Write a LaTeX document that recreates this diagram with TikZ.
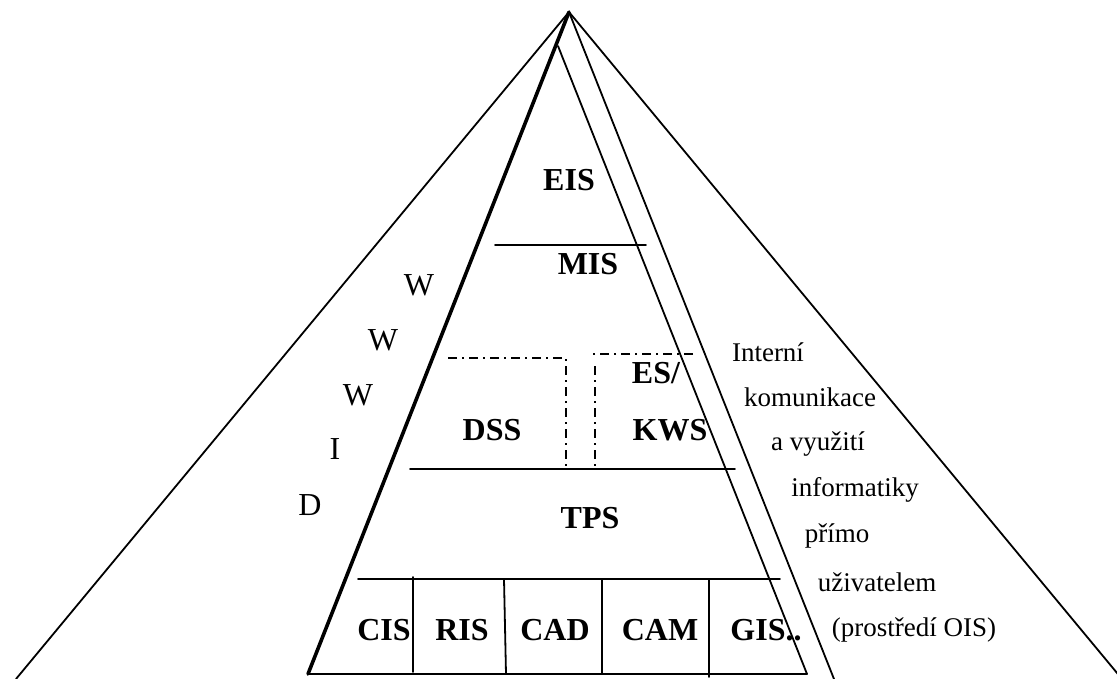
\documentclass[tikz,border=0pt]{standalone}
\usepackage{fontspec}
\setmainfont{Liberation Serif}
\begin{document}
\begin{tikzpicture}[x=1pt,y=-1pt,
  edge/.style={line width=1.8pt, line cap=round},
  heavy/.style={line width=3.6pt, line cap=round},
  dashdot/.style={line width=1.6pt, dash pattern=on 9pt off 5pt on 2pt off 5pt},
  sys/.style={inner sep=0pt, font=\fontsize{32}{34}\selectfont\bfseries},
  letter/.style={inner sep=0pt, font=\fontsize{32}{34}\selectfont},
  note/.style={inner sep=0pt, font=\fontsize{27}{29}\selectfont}]
\useasboundingbox (0,0) rectangle (1117,679);

% apex and base points of the pyramids
\coordinate (apex) at (569,12);
\coordinate (outerL) at (16,679);
\coordinate (outerR) at (1122,679);
\coordinate (innerTop) at (558,46);
\coordinate (baseL) at (308,674);
\coordinate (baseR) at (807,674);
\coordinate (edgeB) at (834,679);

% outer pyramid (Internet / WWW environment)
\draw[edge] (apex) -- (outerL);
\draw[edge] (apex) -- (outerR);
% inner pyramid of the information systems
\draw[heavy] (apex) -- (baseL);
\draw[edge] (innerTop) -- (baseR);
\draw[edge] (baseL) -- (baseR);
% strip of the office environment
\draw[edge] (apex) -- (edgeB);

% level separators
\coordinate (l1a) at (495,245);  \coordinate (l1b) at (646,245);
\coordinate (l2a) at (410,469);  \coordinate (l2b) at (735,469);
\coordinate (l3a) at (358,579);  \coordinate (l3b) at (780,579);
\draw[edge] (l1a) -- (l1b);
\draw[edge] (l2a) -- (l2b);
\draw[edge] (l3a) -- (l3b);

% cells of the operational level
\coordinate (d1a) at (413,577); \coordinate (d1b) at (413,672);
\coordinate (d2a) at (504,579); \coordinate (d2b) at (506,674);
\coordinate (d3a) at (602,579); \coordinate (d3b) at (602,674);
\coordinate (d4a) at (709,579); \coordinate (d4b) at (709,677);
\draw[edge] (d1a) -- (d1b);
\draw[edge] (d2a) -- (d2b);
\draw[edge] (d3a) -- (d3b);
\draw[edge] (d4a) -- (d4b);

% dash-dotted areas of DSS and ES/KWS
\coordinate (dssA) at (448,358); \coordinate (dssB) at (566,358); \coordinate (dssC) at (566,469);
\coordinate (esA) at (693,354);  \coordinate (esB) at (590,354);
\coordinate (esC) at (595,366);  \coordinate (esD) at (595,469);
\draw[dashdot] (dssA) -- (dssB) -- (dssC);
\draw[dashdot] (esA) -- (esB);
\draw[dashdot] (esC) -- (esD);

% system labels
\node[sys] (eis) at (569,180) {EIS};
\node[sys] (mis) at (588,264) {MIS};
\node[sys] (dss) at (492,430) {DSS};
\node[sys] (es)  at (656,373) {ES/};
\node[sys] (kws) at (670,430) {KWS};
\node[sys] (tps) at (590,518) {TPS};
\node[sys] (cis) at (384,630) {CIS};
\node[sys] (ris) at (462,630) {RIS};
\node[sys] (cad) at (555,630) {CAD};
\node[sys] (cam) at (660,630) {CAM};
\node[sys] (gis) at (766,630) {GIS..};

% WWW / ID letters
\node[letter] (w1) at (419,285) {W};
\node[letter] (w2) at (383,340) {W};
\node[letter] (w3) at (358,395) {W};
\node[letter] (li) at (335,449) {I};
\node[letter] (ld) at (310,505) {D};

% description of the office environment
\node[note] (t1) at (768,352) {Interní};
\node[note] (t2) at (810,397) {komunikace};
\node[note] (t3) at (818,444) {a využití};
\node[note] (t4) at (855,490) {informatiky};
\node[note] (t5) at (837,536) {přímo};
\node[note] (t6) at (877,582) {uživatelem};
\node[note] (t7) at (914,630) {(prostředí OIS)};
\end{tikzpicture}
\end{document}
